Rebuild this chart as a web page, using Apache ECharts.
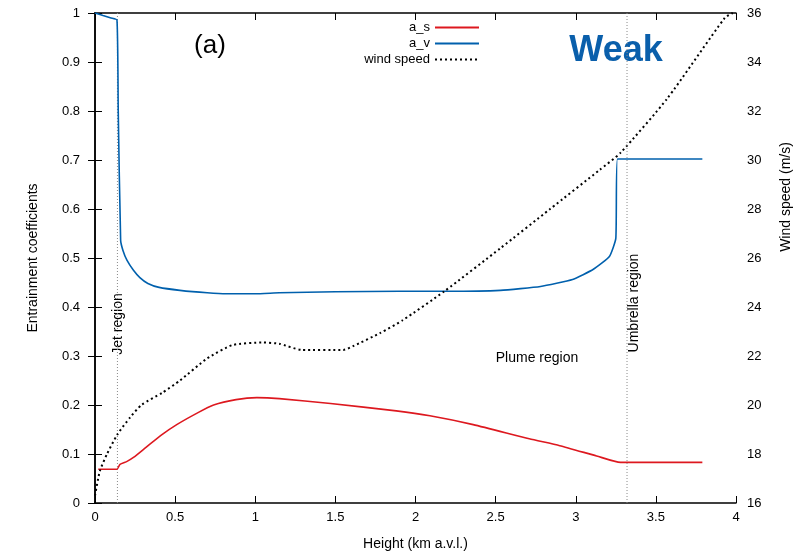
<!DOCTYPE html>
<html>
<head>
<meta charset="utf-8">
<script src="https://cdn.jsdelivr.net/npm/echarts@6/dist/echarts.min.js"></script>
<style>html,body{margin:0;padding:0;background:#fff}#c{width:800px;height:556px}</style>
</head>
<body>
<div id="c"></div>
<script>
// ---- data ----
const xTicks = [0, 0.5, 1, 1.5, 2, 2.5, 3, 3.5, 4];
const heightAs = [0.02, 0.137, 0.156, 0.2, 0.24, 0.32, 0.42, 0.51, 0.64, 0.74, 0.88, 1.01, 1.15, 1.47, 1.88, 2.09, 2.36, 2.71, 2.9, 3.13, 3.28, 3.79];
const aS       = [0.069, 0.069, 0.079, 0.085, 0.093, 0.114, 0.14, 0.16, 0.184, 0.2, 0.211, 0.215, 0.213, 0.203, 0.188, 0.178, 0.16, 0.131, 0.117, 0.096, 0.083, 0.083];
const heightAv = [0, 0.05, 0.1, 0.137, 0.145, 0.16, 0.175, 0.2, 0.24, 0.28, 0.33, 0.4, 0.53, 0.7, 0.82, 1.0, 1.15, 1.5, 1.9, 2.2, 2.53, 2.78, 2.98, 3.11, 3.21, 3.25, 3.26, 3.79];
const aV       = [1.0, 0.995, 0.99, 0.986, 0.8, 0.536, 0.515, 0.495, 0.475, 0.46, 0.448, 0.44, 0.434, 0.429, 0.427, 0.427, 0.429, 0.431, 0.432, 0.432, 0.434, 0.442, 0.456, 0.477, 0.503, 0.54, 0.702, 0.702];
const heightWs = [0, 0.03, 0.075, 0.14, 0.22, 0.29, 0.42, 0.53, 0.7, 0.86, 1.05, 1.15, 1.29, 1.55, 1.61, 1.78, 1.92, 2.18, 2.53, 2.84, 3.15, 3.28, 3.57, 3.93, 3.98];
const windSpeed = [16.3, 17.3, 18.0, 18.8, 19.5, 20.0, 20.5, 21.0, 21.9, 22.45, 22.55, 22.5, 22.25, 22.25, 22.4, 22.94, 23.46, 24.64, 26.4, 28.0, 29.6, 30.3, 32.5, 35.8, 36.0];
const jetBoundary = 0.14;
const umbrellaBoundary = 3.32;
const leftRange = [0, 1];

const zip = (xs, ys) => xs.map((x, i) => [x, ys[i]]);
const font = 'Liberation Sans, Arial, sans-serif';

const chart = echarts.init(document.getElementById('c'), null, {renderer: 'canvas'});
const axisLine = {show: true, lineStyle: {color: '#000', width: 1.5}};
const tick = {show: true, inside: true, length: 7, lineStyle: {color: '#000', width: 1}};
const lbl = {color: '#000', fontSize: 13, fontFamily: font};

const option = {
  animation: false,
  backgroundColor: '#fff',
  grid: {left: 95, right: 64, top: 13, bottom: 50},
  xAxis: [{
    type: 'value', min: 0, max: 4, interval: 0.5, position: 'bottom',
    axisLine, axisTick: tick, splitLine: {show: false},
    axisLabel: Object.assign({margin: 8}, lbl),
    name: 'Height (km a.v.l.)', nameLocation: 'middle', nameGap: 34,
    nameTextStyle: {color: '#000', fontSize: 14, fontFamily: font}
  }, {
    type: 'value', min: 0, max: 4, interval: 0.5, position: 'top',
    axisLine, axisTick: tick, splitLine: {show: false}, axisLabel: {show: false}
  }],
  yAxis: [{
    type: 'value', min: 0, max: 1, interval: 0.1, position: 'left',
    axisLine, axisTick: tick, splitLine: {show: false},
    axisLabel: Object.assign({margin: 15}, lbl),
    name: 'Entrainment coefficients', nameLocation: 'middle', nameGap: 55, nameRotate: 90,
    nameTextStyle: {color: '#000', fontSize: 14, fontFamily: font}
  }, {
    type: 'value', min: 16, max: 36, interval: 2, position: 'right',
    axisLine, axisTick: tick, splitLine: {show: false},
    axisLabel: Object.assign({margin: 11}, lbl)
  }],
  legend: [
    {data: ['a_s'], right: 320, top: 21},
    {data: ['a_v'], right: 320, top: 37},
    {data: ['wind speed'], right: 320, top: 53}
  ].map(l => Object.assign({
    orient: 'vertical', align: 'right', padding: 0, itemWidth: 44, itemHeight: 14, itemGap: 2,
    itemStyle: {opacity: 0},
    textStyle: {color: '#000', fontSize: 13, fontFamily: font}
  }, l)),
  series: [
    {
      name: 'a_s', type: 'line', xAxisIndex: 0, yAxisIndex: 0, data: zip(heightAs, aS),
      symbol: 'none', smooth: 0.2,
      lineStyle: {color: '#dd181f', width: 1.6}, itemStyle: {color: '#dd181f'}, z: 3
    },
    {
      name: 'a_v', type: 'line', xAxisIndex: 0, yAxisIndex: 0, data: zip(heightAv, aV),
      symbol: 'none', smooth: 0.15,
      lineStyle: {color: '#0060ad', width: 1.6}, itemStyle: {color: '#0060ad'}, z: 3
    },
    {
      name: 'wind speed', type: 'line', xAxisIndex: 0, yAxisIndex: 1, data: zip(heightWs, windSpeed),
      symbol: 'none', smooth: 0.2, lineStyle: {color: '#000', width: 2, type: [2, 3]}, itemStyle: {color: '#000'}, z: 4
    },
    {
      name: 'jet', type: 'line', xAxisIndex: 0, yAxisIndex: 0,
      data: [[jetBoundary, leftRange[0]], [jetBoundary, leftRange[1]]],
      symbol: 'none', lineStyle: {color: '#8a8a8a', width: 1, type: [1, 2]}, silent: true, z: 2
    },
    {
      name: 'umbrella', type: 'line', xAxisIndex: 0, yAxisIndex: 0,
      data: [[umbrellaBoundary, leftRange[0]], [umbrellaBoundary, leftRange[1]]],
      symbol: 'none', lineStyle: {color: '#8a8a8a', width: 1, type: [1, 2]}, silent: true, z: 5
    }
  ],
  graphic: [
    {type: 'text', x: 210, y: 46, style: {text: '(a)', fill: '#000', font: '26px ' + font, textAlign: 'center', textVerticalAlign: 'middle'}},
    {type: 'text', x: 616, y: 51, style: {text: 'Weak', fill: '#0a5fab', font: 'bold 36px ' + font, textAlign: 'center', textVerticalAlign: 'middle'}},
    {type: 'text', x: 118, y: 324, rotation: Math.PI / 2, style: {text: 'Jet region', fill: '#000', font: '14px ' + font, textAlign: 'center', textVerticalAlign: 'middle'}},
    {type: 'text', x: 634, y: 303, rotation: Math.PI / 2, style: {text: 'Umbrella region', fill: '#000', font: '14px ' + font, textAlign: 'center', textVerticalAlign: 'middle'}},
    {type: 'text', x: 537, y: 358, style: {text: 'Plume region', fill: '#000', font: '14px ' + font, textAlign: 'center', textVerticalAlign: 'middle'}},
    {type: 'text', x: 786, y: 197, rotation: Math.PI / 2, style: {text: 'Wind speed (m/s)', fill: '#000', font: '14px ' + font, textAlign: 'center', textVerticalAlign: 'middle'}}
  ]
};
chart.setOption(option);
</script>
</body>
</html>
